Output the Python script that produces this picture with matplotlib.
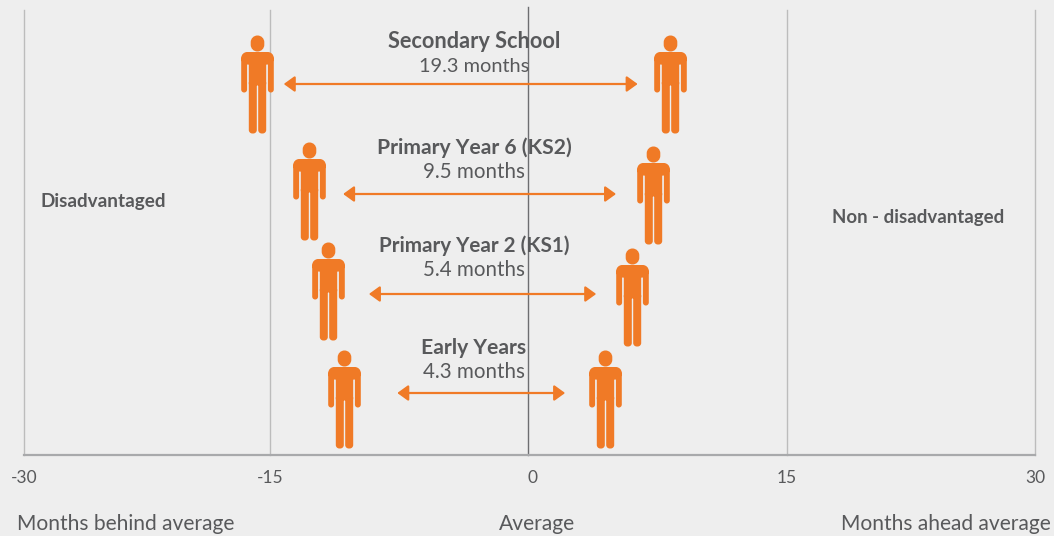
import numpy as np
import matplotlib
matplotlib.use("Agg")
import matplotlib.pyplot as plt
from matplotlib.path import Path
from matplotlib.transforms import ScaledTranslation

# ---- data ----
stages = ["Secondary School", "Primary Year 6 (KS2)", "Primary Year 2 (KS1)", "Early Years"]
gaps = ["19.3 months", "9.5 months", "5.4 months", "4.3 months"]
person_left = [-15.8, -12.75, -11.6, -10.68]
person_right = [8.22, 7.25, 6.02, 4.46]
person_left_h = [371, 264, 164, 56]
person_right_h = [371, 260, 158, 56]
arrow_start = [-14.2, -10.75, -9.25, -7.6]
arrow_end = [6.35, 5.1, 3.95, 2.15]
arrow_h = [371, 261, 161, 62]
tick_values = [-30, -15, 0, 15, 30]
tick_labels = ["-30", "-15", "0", "15", "30"]
tick_pixels = [24, 270, 528, 787, 1035]

BG = "#eeeeee"
ORANGE = "#f07a26"
TEXT = "#58595b"
FONT = "Lato"
W, H = 1054, 536

def person_path():
    def rrect(x0, x1, y0, y1, r):
        k = 0.5523 * r
        return ([(x0 + r, y0), (x1 - r, y0), (x1 - r + k, y0), (x1, y0 + r - k), (x1, y0 + r),
                 (x1, y1 - r), (x1, y1 - r + k), (x1 - r + k, y1), (x1 - r, y1),
                 (x0 + r, y1), (x0 + r - k, y1), (x0, y1 - r + k), (x0, y1 - r),
                 (x0, y0 + r), (x0, y0 + r - k), (x0 + r - k, y0), (x0 + r, y0), (x0 + r, y0)],
                [Path.MOVETO, Path.LINETO, Path.CURVE4, Path.CURVE4, Path.CURVE4,
                 Path.LINETO, Path.CURVE4, Path.CURVE4, Path.CURVE4,
                 Path.LINETO, Path.CURVE4, Path.CURVE4, Path.CURVE4,
                 Path.LINETO, Path.CURVE4, Path.CURVE4, Path.CURVE4, Path.CLOSEPOLY])
    parts = [
        rrect(-8.7, 8.7, -1, 32.5, 2),     # torso
        rrect(-16.3, 16.3, 20, 32.5, 6),   # shoulders
        rrect(-16.3, -10.4, -8, 28, 2.9),  # left arm
        rrect(10.4, 16.3, -8, 28, 2.9),    # right arm
        rrect(-8.7, -0.7, -49, 5, 3.5),    # left leg
        rrect(0.7, 8.7, -49, 5, 3.5),      # right leg
        rrect(-6.8, 6.8, 33, 49, 6.7),     # head
    ]
    verts, codes = [], []
    for v, c in parts:
        verts += v
        codes += c
    return Path(verts, codes)

fig = plt.figure(figsize=(W / 100, H / 100), dpi=100, facecolor=BG)
ax = fig.add_axes([24 / W, (H - 455) / H, (1035 - 24) / W, 448 / H], facecolor=BG)
ax.set_xscale("function", functions=(lambda v: np.interp(v, tick_values, tick_pixels),
                                     lambda p: np.interp(p, tick_pixels, tick_values)))
ax.set_xlim(-30, 30)
ax.set_ylim(0, 448)
ax.set_yticks([])
for s in ["top", "left", "right"]:
    ax.spines[s].set_visible(False)
ax.spines["bottom"].set_color("#a8a9ab")
ax.spines["bottom"].set_linewidth(1.6)

ax.set_xticks(tick_values, tick_labels)
ax.xaxis.set_minor_locator(matplotlib.ticker.NullLocator())
ax.tick_params(axis="x", length=0, pad=11, labelsize=12.5, labelcolor=TEXT)
for lab, t in zip(ax.get_xticklabels(), tick_values):
    lab.set_fontfamily(FONT)
    if t == 0:
        lab.set_transform(lab.get_transform() + ScaledTranslation(5 / 100, 0, fig.dpi_scale_trans))

for t in tick_values:
    if t == 0:
        ax.plot([t, t], [0, 448], color="#6d6e71", lw=1.0, zorder=1, clip_on=False)
    else:
        ax.plot([t, t], [0, 445], color="#bcbcbc", lw=1.0, zorder=1, clip_on=False)

person = person_path()
size_pt = 98 * 72 / 100
for xs, ys in ((person_left, person_left_h), (person_right, person_right_h)):
    ax.plot(xs, ys, ls="none", marker=person, markersize=size_pt,
            markerfacecolor=ORANGE, markeredgecolor="none", zorder=3, clip_on=False)

for a, b, y in zip(arrow_start, arrow_end, arrow_h):
    ax.annotate("", xy=(b, y), xytext=(a, y), zorder=3,
                arrowprops=dict(arrowstyle="<|-|>,head_length=0.65,head_width=0.47",
                                mutation_scale=10, color=ORANGE, lw=1.6,
                                shrinkA=0, shrinkB=0))

def ptext(x, y, s, size, weight="normal", ha="center"):
    fig.text(x / W, 1 - y / H, s, fontsize=size, fontweight=weight, ha=ha, va="center",
             color=TEXT, family=FONT, zorder=5)

stage_x = [474, 474, 474, 474]
stage_y = [41, 148, 246, 348]
stage_size = [15.7, 15.2, 14.9, 15.2]
gap_x = [474, 474, 474, 474]
gap_y = [66.5, 172.5, 270.5, 372.5]
gap_size = [14.4, 14.8, 14.8, 14.8]
for s, g, sx, sy, ss, gx, gy, gs in zip(stages, gaps, stage_x, stage_y, stage_size,
                                        gap_x, gap_y, gap_size):
    ptext(sx, sy, s, ss, "bold")
    ptext(gx, gy, g, gs)

ptext(40, 202, "Disadvantaged", 13.6, "bold", ha="left")
ptext(918, 217, "Non - disadvantaged", 13.4, "bold")
ptext(126, 524, "Months behind average", 15.1)
ptext(537, 524, "Average", 15.1)
ptext(946, 524, "Months ahead average", 15.1)

fig.savefig("out.png", dpi=100, facecolor=BG)
